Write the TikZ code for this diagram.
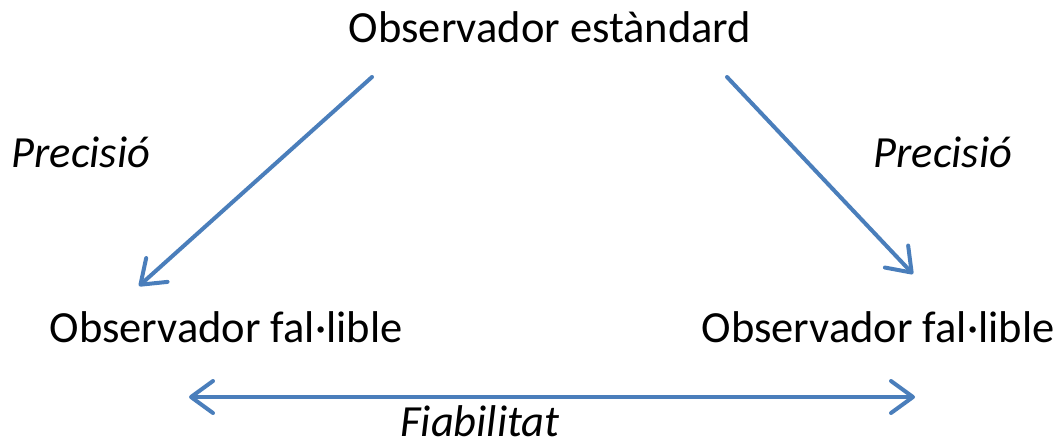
\documentclass[tikz,border=0pt]{standalone}
\usepackage{fontspec}
\setmainfont{Carlito}
\usetikzlibrary{arrows.meta}
\definecolor{arrowblue}{HTML}{4A7EBB}
\tikzset{
  lbl/.style={anchor=base, inner sep=0pt, font=\fontsize{44.5}{50}\selectfont},
  ilbl/.style={lbl, font=\fontsize{44.5}{50}\selectfont\itshape},
  conn/.style={draw=arrowblue, line width=4pt, line cap=round,
    -{Straight Barb[length=22pt, width=32pt, line width=4pt, round]}},
  dconn/.style={conn, {Straight Barb[length=22pt, width=32pt, line width=4pt, round]}-{Straight Barb[length=22pt, width=32pt, line width=4pt, round]}}
}
\begin{document}
\begin{tikzpicture}[x=1pt, y=-1pt]
\useasboundingbox (0,0) rectangle (1058,445);
\node[lbl] (std) at (550,42) {Observador estàndard};
\node[lbl] (fl) at (226,342) {Observador fal·lible};
\node[lbl] (fr) at (878,342) {Observador fal·lible};
\node[ilbl] (pl) at (81,167) {Precisió};
\node[ilbl] (pr) at (943,167) {Precisió};
\node[ilbl] (fia) at (480,436) {Fiabilitat};
\coordinate (s1) at (372,77);
\coordinate (t1) at (139,286);
\coordinate (s2) at (727,77);
\coordinate (t2) at (913,274);
\coordinate (d1) at (189,397);
\coordinate (d2) at (915,397);
\draw[conn] (s1) -- (t1);
\draw[conn] (s2) -- (t2);
\draw[dconn] (d1) -- (d2);
\end{tikzpicture}
\end{document}
